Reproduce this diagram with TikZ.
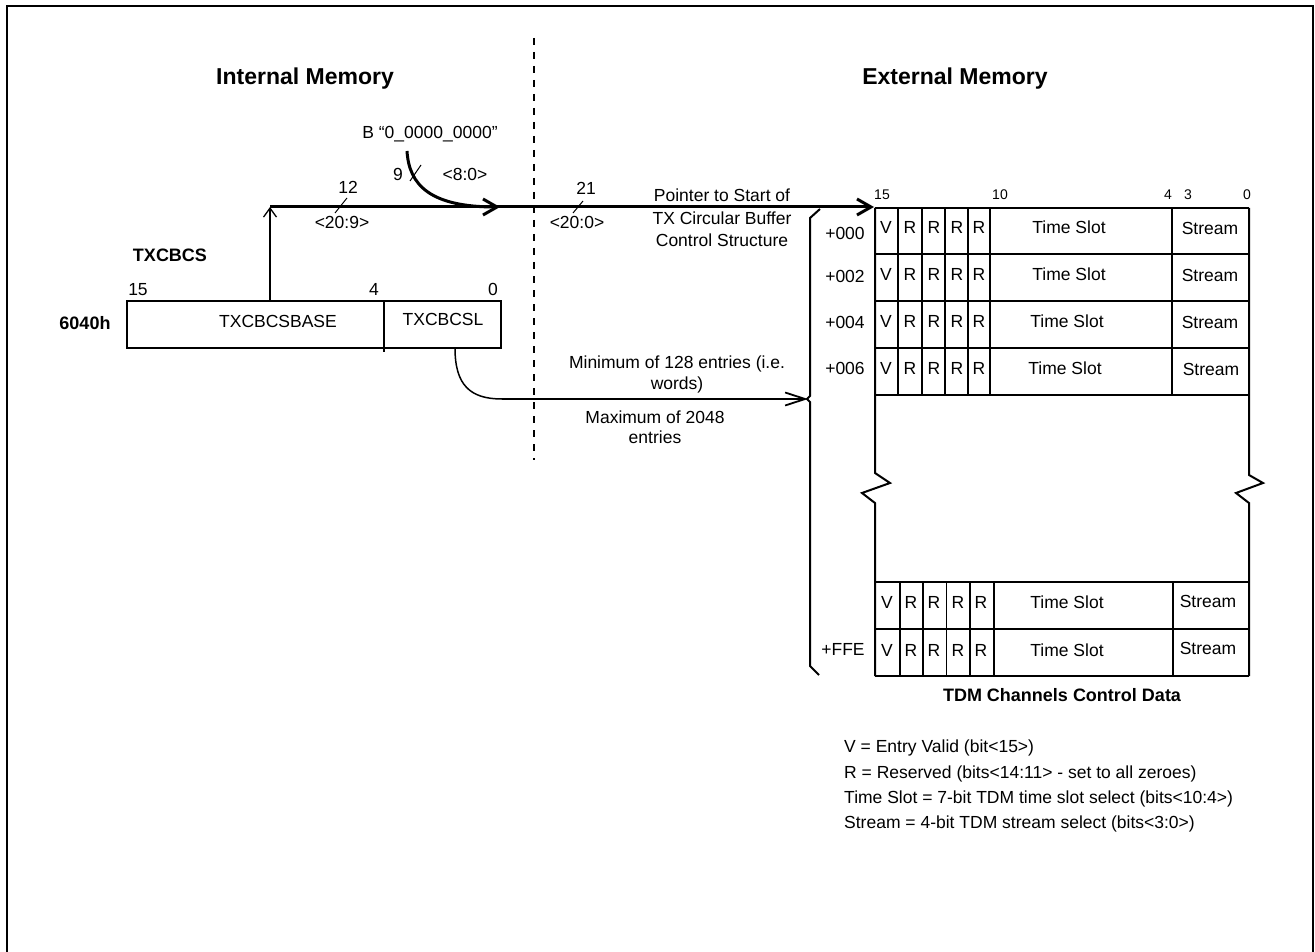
\documentclass[tikz,border=0pt]{standalone}
\usepackage{fontspec}
\setmainfont{Liberation Sans}
\usetikzlibrary{arrows.meta}
\begin{document}
\begin{tikzpicture}[x=1pt,y=-1pt,
  lab/.style={inner sep=0pt, font=\fontsize{17.5}{21}\selectfont, text height=12.5pt, text depth=0pt},
  labsm/.style={inner sep=0pt, font=\fontsize{14}{17}\selectfont, text height=10pt, text depth=0pt},
  ttl/.style={inner sep=0pt, font=\fontsize{23}{28}\selectfont\bfseries, text height=16.5pt, text depth=0pt},
  bld/.style={inner sep=0pt, font=\fontsize{18}{22}\selectfont\bfseries, text height=12.9pt, text depth=0pt},
  ln/.style={line width=2pt},
  thinln/.style={line width=1pt},
  bus/.style={line width=3pt},
  bigtip/.style={-{Straight Barb[length=14pt,width=16pt]}},
  divider/.style={line width=2.5pt, dash pattern=on 7pt off 7pt}
]
\useasboundingbox (0,0) rectangle (1315,952);
% outer frame
\draw[ln] (7,965) -- (7,6) -- (1313,6) -- (1313,965);
% divider
\draw[divider] (534,38) -- (534,460);
% titles
\node[ttl] (tint) at (305,76) {Internal Memory};
\node[ttl] (text) at (955,76) {External Memory};

% register
\node[bld] (txcbcs) at (170,255) {TXCBCS};
\node[bld] (addr) at (85,323) {6040h};
\node[lab] (b15) at (138,289) {15};
\node[lab] (b4) at (374,289) {4};
\node[lab] (b0) at (493,289) {0};
\draw[ln] (127,301) rectangle (501,348);
\draw[ln] (384,301) -- (384,352);
\node[lab] (base) at (278,321) {TXCBCSBASE};
\node[lab] (lim) at (443,319) {TXCBCSL};

% coordinates
\coordinate (regtop) at (270,301);
\coordinate (jn) at (270,207);
\coordinate (merge) at (500,207);
\coordinate (tabtip) at (874,207);
\coordinate (bstart) at (407,151);
\coordinate (limbot) at (455,348);
\coordinate (bend) at (502,399);
\coordinate (bracetip) at (808,399);

% B constant
\node[lab] (bconst) at (430,132) {B \char"201C 0\_0000\_0000\char"201D};
\draw[bus, bigtip] (bstart) .. controls (409,185) and (430,207) .. (merge);
\draw[thinln] (410,181) -- (421,165);
\node[lab] (n9) at (398,174) {9};
\node[lab] (r80) at (465,174) {<8:0>};

% vertical from register
\draw[line width=1.3pt, -{Straight Barb[length=9pt,width=13pt]}] (regtop) -- (jn);
% bus
\draw[bus, bigtip] (jn) -- (tabtip);
\draw[thinln] (335,213) -- (347,198);
\node[lab] (n12) at (348,187) {12};
\node[lab] (r209) at (342,222) {<20:9>};
\draw[thinln] (573,213) -- (583,201);
\node[lab] (n21) at (586,188) {21};
\node[lab] (r200) at (577,222) {<20:0>};
\node[lab] (p1) at (722,195) {Pointer to Start of};
\node[lab] (p2) at (722,218) {TX Circular Buffer};
\node[lab] (p3) at (722,240) {Control Structure};

% length curve
\draw[line width=1.5pt] (limbot) .. controls (455,385) and (470,399) .. (bend);
\draw[line width=1.8pt, -{Straight Barb[length=20pt,width=13pt]}] (bend) -- (bracetip);
\node[lab] (m1) at (677,362) {Minimum of 128 entries (i.e.};
\node[lab] (m2) at (677,383) {words)};
\node[lab] (x1) at (655,417) {Maximum of 2048};
\node[lab] (x2) at (655,437) {entries};

% brace
\draw[ln] (820,209) -- (810,218) -- (810,396) -- (807,399) -- (810,402) -- (810,666) -- (819,675);

% offsets
\node[lab] (o0) at (845,233) {+000};
\node[lab] (o2) at (845,276) {+002};
\node[lab] (o4) at (845,322) {+004};
\node[lab] (o6) at (845,368) {+006};
\node[lab] (of) at (843,649) {+FFE};

% table outline
\draw[ln] (875,208) -- (875,473) -- (890,483) -- (862,493) -- (875,503) -- (875,676);
\draw[ln] (1249,208) -- (1249,475) -- (1263,483) -- (1236,493) -- (1249,503) -- (1249,676);
\foreach \y in {208,254,301,348,395} \draw[ln] (875,\y) -- (1249,\y);
\foreach \x in {898,922,945,968,990,1172} \draw[ln] (\x,208) -- (\x,395);
\foreach \y in {582,629,676} \draw[ln] (875,\y) -- (1249,\y);
\foreach \x in {900,923,970,994,1173} \draw[ln] (\x,582) -- (\x,676);
\draw[thinln] (946,582) -- (946,676);

% bit numbers
\node[labsm] (t15) at (882,195) {15};
\node[labsm] (t10) at (1000,195) {10};
\node[labsm] (t4) at (1168,195) {4};
\node[labsm] (t3) at (1188,195) {3};
\node[labsm] (t0) at (1247,195) {0};

% cell text top
\foreach \y/\ts/\st [count=\i] in {227/1069/1210, 274/1069/1210, 321/1067/1210, 368/1065/1211} {
  \node[lab] (v\i) at (886,\y) {V};
  \node[lab] (ra\i) at (910,\y) {R};
  \node[lab] (rb\i) at (934,\y) {R};
  \node[lab] (rc\i) at (957,\y) {R};
  \node[lab] (rd\i) at (979,\y) {R};
  \node[lab] (ts\i) at (\ts,\y) {Time Slot};
  \node[lab] (st\i) at (\st,\y+1) {Stream};
}
\foreach \y/\sy [count=\i] in {602/601, 650/648} {
  \node[lab] (vb\i) at (887,\y) {V};
  \node[lab] (rba\i) at (911,\y) {R};
  \node[lab] (rbb\i) at (934,\y) {R};
  \node[lab] (rbc\i) at (958,\y) {R};
  \node[lab] (rbd\i) at (981,\y) {R};
  \node[lab] (tsb\i) at (1067,\y) {Time Slot};
  \node[lab] (stb\i) at (1208,\sy) {Stream};
}
\node[bld] (cap) at (1062,695) {TDM Channels Control Data};

% legend
\node[lab, anchor=west] (l1) at (844,746) {V = Entry Valid (bit<15>)};
\node[lab, anchor=west] (l2) at (844,772) {R = Reserved (bits<14:11> - set to all zeroes)};
\node[lab, anchor=west] (l3) at (844,797) {Time Slot = 7-bit TDM time slot select (bits<10:4>)};
\node[lab, anchor=west] (l4) at (844,822) {Stream = 4-bit TDM stream select (bits<3:0>)};
\end{tikzpicture}
\end{document}
